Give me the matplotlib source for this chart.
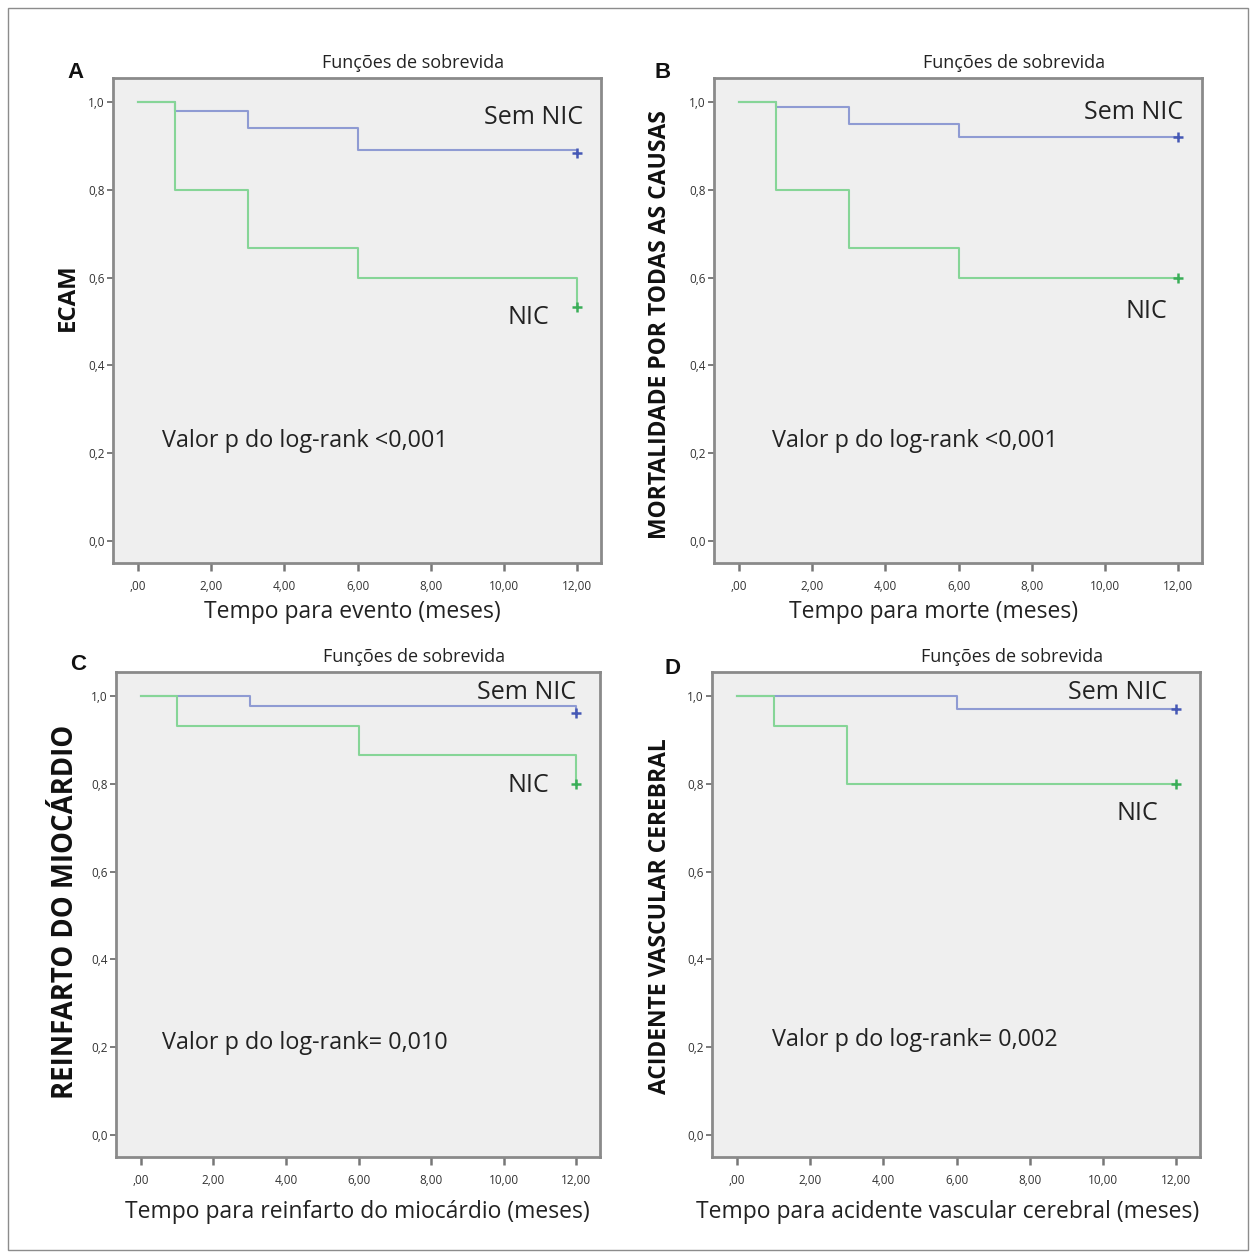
import matplotlib
matplotlib.use('Agg')
import matplotlib.pyplot as plt
from matplotlib.patches import Rectangle

# Kaplan-Meier curves (time in months, survival)
times_a_sem = [0, 1, 3, 6, 12]
surv_a_sem = [1.0, 0.98, 0.94, 0.89, 0.885]
times_a_nic = [0, 1, 3, 6, 12]
surv_a_nic = [1.0, 0.80, 0.667, 0.60, 0.533]

times_b_sem = [0, 1, 3, 6, 12]
surv_b_sem = [1.0, 0.99, 0.95, 0.92, 0.92]
times_b_nic = [0, 1, 3, 6, 12]
surv_b_nic = [1.0, 0.80, 0.667, 0.60, 0.60]

times_c_sem = [0, 3, 12]
surv_c_sem = [1.0, 0.978, 0.962]
times_c_nic = [0, 1, 6, 12]
surv_c_nic = [1.0, 0.933, 0.867, 0.80]

times_d_sem = [0, 6, 12]
surv_d_sem = [1.0, 0.97, 0.97]
times_d_nic = [0, 1, 3, 12]
surv_d_nic = [1.0, 0.933, 0.80, 0.80]

letters = ['A', 'B', 'C', 'D']
ylabels = ['ECAM', 'MORTALIDADE POR TODAS AS CAUSAS',
           'REINFARTO DO MIOCÁRDIO', 'ACIDENTE VASCULAR CEREBRAL']
xlabels = ['Tempo para evento (meses)', 'Tempo para morte (meses)',
           'Tempo para reinfarto do miocárdio (meses)',
           'Tempo para acidente vascular cerebral (meses)']
pvalues = ['Valor p do log-rank <0,001', 'Valor p do log-rank <0,001',
           'Valor p do log-rank= 0,010', 'Valor p do log-rank= 0,002']
xticks = [0, 2, 4, 6, 8, 10, 12]
xticklabels = [',00', '2,00', '4,00', '6,00', '8,00', '10,00', '12,00']
yticks = [0.0, 0.2, 0.4, 0.6, 0.8, 1.0]
yticklabels = ['0,0', '0,2', '0,4', '0,6', '0,8', '1,0']

curves = [
    (times_a_sem, surv_a_sem, times_a_nic, surv_a_nic),
    (times_b_sem, surv_b_sem, times_b_nic, surv_b_nic),
    (times_c_sem, surv_c_sem, times_c_nic, surv_c_nic),
    (times_d_sem, surv_d_sem, times_d_nic, surv_d_nic),
]

# label positions (data coords): sem NIC (right edge), NIC (center), p-value (left)
sem_pos = [(12.17, 0.966), (12.14, 0.977), (12.0, 1.009), (11.75, 1.009)]
nic_pos = [(10.66, 0.51), (11.13, 0.524), (10.68, 0.797), (10.94, 0.733)]
p_pos = [(0.66, 0.228), (0.9, 0.228), (0.6, 0.21), (0.95, 0.216)]
# x label centre in axes fraction
xlab_pos = [(0.49, -0.101), (0.449, -0.101), (0.498, -0.113), (0.482, -0.113)]

# axes boxes in pixels: left, top, right, bottom
boxes = [(113, 78, 601, 563), (714, 78, 1202, 563),
         (116, 672, 600, 1157), (712, 672, 1200, 1157)]
ylab_pos = [(68, 297, 17.3), (660, 325, 16.5), (66, 912, 19.8), (660, 916, 16.5)]
letter_pos = [(75, 72), (663, 73), (78, 665), (673, 668)]

W, H = 1256, 1254
fig = plt.figure(figsize=(W / 100, H / 100), dpi=100)
fig.patches.append(Rectangle((8 / W, 4 / H), 1240 / W, 1242 / H, transform=fig.transFigure,
                             fill=False, edgecolor='#8c8c8c', lw=1))

blue = '#8f9bd3'
blue_dark = '#4558b5'
green = '#86d597'
green_dark = '#3aae58'
font = 'Open Sans'

for i in range(4):
    l, t, r, b = boxes[i]
    ax = fig.add_axes([l / W, 1 - b / H, (r - l) / W, (b - t) / H])
    ax.set_facecolor('#efefef')
    for s in ax.spines.values():
        s.set_color('#8a8a8a')
        s.set_linewidth(2)
    ts, ss, tn, sn = curves[i]
    ax.step(ts, ss, where='post', color=blue, lw=1.5)
    ax.step(tn, sn, where='post', color=green, lw=1.5)
    ax.plot(ts[-1], ss[-1], marker='+', color=blue_dark, ms=7, mew=1.8)
    ax.plot(tn[-1], sn[-1], marker='+', color=green_dark, ms=7, mew=1.8)
    ax.set_xlim(-0.68, 12.65)
    ax.set_ylim(-0.05, 1.055)
    ax.set_xticks(xticks)
    ax.set_xticklabels(xticklabels, fontsize=8.5, family=font, color='#333333')
    ax.set_yticks(yticks)
    ax.set_yticklabels(yticklabels, fontsize=8.5, family=font, color='#333333')
    ax.tick_params(axis='y', length=4, width=1.2, color='#666666', pad=2)
    ax.tick_params(axis='x', length=6, width=1.8, color='#777777', pad=6)
    ax.set_xlabel(xlabels[i], fontsize=16.5, family=font, color='#222222', va='center')
    ax.xaxis.set_label_coords(*xlab_pos[i])
    ax.text(0.615, 1.031, 'Funções de sobrevida', transform=ax.transAxes, ha='center',
            va='center', fontsize=13, family=font, color='#222222')
    x, y = sem_pos[i]
    ax.text(x, y, 'Sem NIC', ha='right', va='center', fontsize=18, family=font, color='#222222')
    x, y = nic_pos[i]
    ax.text(x, y, 'NIC', ha='center', va='center', fontsize=18, family=font, color='#222222')
    x, y = p_pos[i]
    ax.text(x, y, pvalues[i], ha='left', va='center', fontsize=16.8, family=font, color='#222222')
    yx, yy, ys = ylab_pos[i]
    fig.text(yx / W, 1 - yy / H, ylabels[i], rotation=90, ha='center', va='center',
             fontsize=ys, fontweight='bold', family=font, color='#111111')
    lx, ly = letter_pos[i]
    fig.text(lx / W, 1 - ly / H, letters[i], ha='center', va='center', fontsize=16,
             fontweight='bold', family='Liberation Sans', color='#111111')

fig.savefig('out.png', dpi=100)
